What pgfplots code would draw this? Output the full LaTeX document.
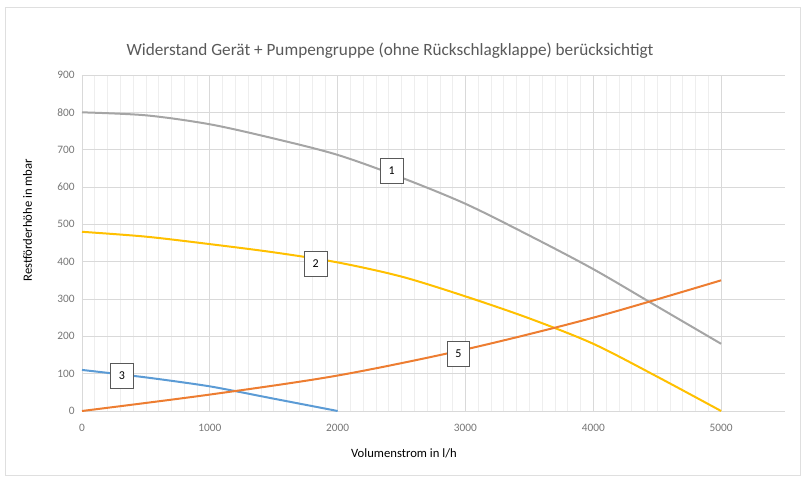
\documentclass[border=0pt]{standalone}
\usepackage{pgfplots}
\pgfplotsset{compat=1.18}
\usepackage{fontspec}
\setmainfont{Carlito}
\definecolor{cgray}{RGB}{165,165,165}
\definecolor{corange}{RGB}{237,125,49}
\definecolor{cyellow}{RGB}{255,192,0}
\definecolor{cblue}{RGB}{91,155,213}
\definecolor{gridc}{RGB}{217,217,217}
\definecolor{minorc}{RGB}{238,238,238}
\definecolor{tickc}{RGB}{118,118,118}
\definecolor{titlec}{RGB}{89,89,89}
\tikzset{lbl/.style={draw=titlec, fill=white, line width=0.6pt, font=\fontsize{9}{10}\selectfont, minimum width=17pt, minimum height=19pt, inner sep=1pt}}
\begin{document}
\begin{tikzpicture}[x=0.75pt,y=0.75pt]
\path[use as bounding box] (-82,-66) rectangle (720,411);
\draw[gray!25, line width=0.6pt] (-77,-64) rectangle (718,404);
\begin{axis}[
  at={(0,0)}, anchor=south west,
  scale only axis, width=527.25pt, height=252pt,
  xmin=0, xmax=5500, ymin=0, ymax=900,
  xtick={0,1000,...,5000}, ytick={0,100,...,900},
  minor x tick num=9,
  major grid style={gridc, line width=0.6pt},
  minor grid style={minorc, line width=0.5pt},
  xmajorgrids, ymajorgrids, xminorgrids,
  axis line style={draw=none},
  tick style={draw=none},
  every tick label/.append style={font=\fontsize{8.5}{9}\selectfont, text=tickc},
  /pgf/number format/assume math mode=true,
  /pgf/number format/1000 sep={},
  xticklabel style={yshift=-6pt},
  yticklabel style={xshift=-2pt},
  xlabel={Volumenstrom in l/h},
  ylabel={Restförderhöhe in mbar},
  xlabel style={font=\fontsize{9.5}{10}\selectfont, at={(axis description cs:0.458,0)}, anchor=north, yshift=-25pt},
  ylabel style={font=\fontsize{9.5}{10}\selectfont, at={(axis description cs:0,0.568)}, anchor=south, yshift=34pt},
  title={Widerstand Gerät + Pumpengruppe (ohne Rückschlagklappe) berücksichtigt},
  title style={font=\fontsize{12.9}{14}\selectfont, text=titlec, at={(axis description cs:0.438,1)}, anchor=south, yshift=3pt},
  clip=false,
]
\addplot[cgray, line width=1.5pt, smooth, tension=0.5] coordinates {(0,800)(500,792)(1000,768)(1500,730)(2000,686)(2500,625)(3000,555)(3500,470)(4000,380)(4500,280)(5000,180)};
\addplot[cyellow, line width=1.5pt, smooth, tension=0.5] coordinates {(0,480)(500,467)(1000,447)(1500,425)(2000,398)(2500,360)(3000,307)(3500,248)(4000,180)(4500,92)(5000,0)};
\addplot[cblue, line width=1.5pt, smooth, tension=0.4] coordinates {(0,110)(500,90)(1000,66)(1500,33)(2000,0)};
\addplot[corange, line width=1.5pt, smooth, tension=0.5] coordinates {(0,0)(1000,44)(2000,95)(3000,165)(4000,250)(5000,350)};
\node[lbl] at (axis cs:2422,643) {1};
\node[lbl] at (axis cs:1828,394) {2};
\node[lbl] at (axis cs:312,94) {3};
\node[lbl] at (axis cs:2945,153) {5};
\end{axis}
\end{tikzpicture}
\end{document}
